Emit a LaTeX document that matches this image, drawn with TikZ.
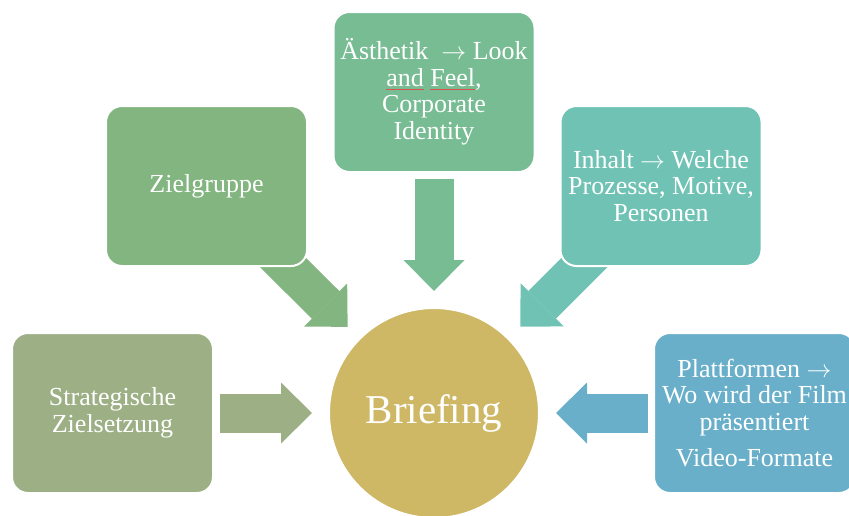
\documentclass[tikz,border=0pt]{standalone}
\usepackage{fontspec}
\setmainfont{Liberation Serif}
\usetikzlibrary{arrows.meta}
\definecolor{zielgrp}{HTML}{82B57F}
\definecolor{aesth}{HTML}{77BC93}
\definecolor{inhaltc}{HTML}{70C3B4}
\definecolor{strat}{HTML}{9DB085}
\definecolor{platt}{HTML}{69AFCA}
\definecolor{brief}{HTML}{CEB866}
\definecolor{squigred}{HTML}{D9534F}
\pgfdeclarelayer{back}
\pgfsetlayers{back,main}
\newcommand\squig[1]{\setbox0\hbox{#1}\rlap{\textcolor{squigred}{\rule[-3.5pt]{\wd0}{0.8pt}}}\box0\relax}
\newcommand\arr{$\rightarrow$}
\begin{document}
\begin{tikzpicture}[x=1pt,y=-1pt,
	box/.style={rectangle,rounded corners=16pt,draw=white,line width=2pt,minimum width=201pt,minimum height=160pt,
		text=white,align=center,font=\fontsize{26}{26.5}\selectfont},
	blockarrow/.style={line width=39pt,-{Triangle[length=31pt,width=61pt,line width=0pt]},shorten >=16pt}]
	\useasboundingbox (0,0) rectangle (849,515);
	\node[box,fill=zielgrp] (zielgruppe) at (206.5,186) {Zielgruppe};
	\node[box,fill=aesth] (aesthetik) at (434,92) {Ästhetik\ \ \arr{} Look\\\squig{and} \squig{Feel},\\Corporate\\Identity};
	\node[box,fill=inhaltc] (inhalt) at (661,186) {Inhalt \arr{} Welche\\Prozesse, Motive,\\Personen};
	\node[box,fill=strat] (strategie) at (112.5,413) {Strategische\\Zielsetzung};
	\node[box,fill=platt] (plattform) at (754.5,413) {Plattformen \arr\\Wo wird der Film\\präsentiert\\[10pt]Video-Formate};
	\node[circle,fill=brief,draw=white,line width=2pt,minimum size=210pt,text=white,
		font=\fontsize{41}{41}\selectfont] (briefing) at (434,413) {Briefing};
	\begin{pgfonlayer}{back}
		\draw[blockarrow,strat,shorten <=6pt] (strategie) -- (briefing);
		\draw[blockarrow,zielgrp,shorten <=-40pt] (zielgruppe) -- (briefing);
		\draw[blockarrow,aesth,shorten <=6pt] (aesthetik) -- (briefing);
		\draw[blockarrow,inhaltc,shorten <=-40pt] (inhalt) -- (briefing);
		\draw[blockarrow,platt,shorten <=5pt] (plattform) -- (briefing);
	\end{pgfonlayer}
\end{tikzpicture}
\end{document}
